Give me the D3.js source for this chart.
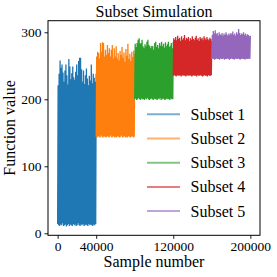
<!DOCTYPE html>
<html>
<head>
<meta charset="utf-8">
<script src="https://cdn.jsdelivr.net/npm/d3@7"></script>
<style>
  html, body { margin: 0; padding: 0; background: #fff; }
  svg { display: block; }
</style>
</head>
<body>
<svg id="chart" width="277" height="277"></svg>
<script>
// ---- data ----
const seriesNames = ["Subset 1", "Subset 2", "Subset 3", "Subset 4", "Subset 5"];
const seriesColors = ["#1f77b4", "#ff7f0e", "#2ca02c", "#d62728", "#9467bd"];
const samplesPerSubset = 40000;

const subset1High = [221, 238, 258, 247, 252, 240, 226, 243, 252, 236, 222, 260, 249, 230, 239, 249, 233, 229, 241, 252, 236, 257, 262, 262, 245, 226, 243, 223, 236, 246, 231, 221, 235, 228, 252, 224, 238, 232, 226, 238];
const subset1Low  = [14, 12, 11, 13, 12, 15, 11, 12, 13, 10, 12, 14, 11, 13, 12, 11, 14, 12, 13, 11, 12, 15, 12, 11, 13, 12, 14, 11, 12, 13, 12, 11, 14, 12, 13, 12, 11, 13, 12, 14];

const subset2High = [264, 271, 269, 261, 284, 271, 285, 284, 264, 274, 266, 281, 269, 276, 264, 274, 281, 261, 276, 264, 279, 261, 269, 258, 272, 266, 278, 262, 270, 256, 275, 265, 283, 260, 268, 257, 271, 263, 273, 268];
const subset2Low  = [144, 143, 145, 144, 143, 146, 144, 143, 145, 144, 143, 144, 145, 143, 144, 146, 143, 144, 145, 143, 144, 143, 145, 144, 143, 144, 146, 143, 144, 145, 143, 144, 143, 145, 144, 143, 144, 145, 143, 144];

const subset3High = [283, 278, 284, 289, 291, 283, 284, 289, 279, 276, 282, 279, 286, 289, 281, 279, 276, 280, 279, 274, 284, 286, 278, 281, 276, 284, 280, 286, 279, 283, 277, 285, 279, 282, 286, 278, 280, 284, 276, 286];
const subset3Low  = [200, 201, 199, 200, 202, 200, 199, 201, 200, 200, 199, 201, 200, 202, 200, 199, 200, 201, 200, 199, 201, 200, 200, 199, 201, 200, 202, 199, 200, 201, 200, 199, 200, 201, 200, 200, 199, 201, 200, 200];

const subset4High = [291, 289, 293, 288, 295, 290, 292, 287, 294, 289, 291, 296, 288, 292, 290, 293, 287, 291, 289, 294, 290, 288, 292, 295, 289, 291, 287, 293, 290, 292, 288, 294, 291, 289, 293, 290, 288, 292, 290, 287];
const subset4Low  = [235, 236, 235, 234, 236, 235, 235, 236, 234, 235, 236, 235, 235, 234, 236, 235, 235, 236, 235, 234, 235, 236, 235, 235, 234, 236, 235, 235, 236, 235, 234, 235, 236, 235, 235, 234, 236, 235, 235, 236];

const subset5High = [296, 302, 298, 303, 297, 299, 295, 300, 297, 296, 299, 295, 298, 296, 300, 297, 295, 298, 296, 299, 297, 301, 296, 298, 295, 300, 297, 305, 299, 296, 298, 297, 300, 296, 298, 295, 297, 296, 294, 295];
const subset5Low  = [260, 261, 260, 259, 260, 261, 260, 260, 259, 261, 260, 260, 261, 259, 260, 260, 261, 260, 259, 260, 261, 260, 260, 259, 261, 260, 260, 261, 260, 259, 260, 261, 260, 260, 259, 261, 260, 260, 261, 260];

const xTicks = [0, 40000, 120000, 200000];
const yTicks = [0, 100, 200, 300];

const highs = [subset1High, subset2High, subset3High, subset4High, subset5High];
const lows  = [subset1Low, subset2Low, subset3Low, subset4Low, subset5Low];

// ---- layout ----
const FONT = "'Liberation Serif', 'DejaVu Serif', 'Times New Roman', serif";
const svg = d3.select("#chart");
const plot = { left: 48, right: 260, top: 20.7, bottom: 235.3 };

const x = d3.scaleLinear().domain([-10000, 210000]).range([plot.left, plot.right]);
const y = d3.scaleLinear().domain([-3, 317.3]).range([plot.bottom, plot.top]);

svg.append("defs").append("clipPath").attr("id", "clip")
  .append("rect")
  .attr("x", plot.left).attr("y", plot.top)
  .attr("width", plot.right - plot.left).attr("height", plot.bottom - plot.top);

// build sample sequences (alternating low / high samples)
const series = seriesNames.map((name, k) => {
  const hi = highs[k], lo = lows[k];
  const n = hi.length * 2;
  const pts = [];
  for (let i = 0; i < hi.length; i++) {
    pts.push({ s: samplesPerSubset * k + (2 * i) * samplesPerSubset / (n - 1), v: lo[i] });
    pts.push({ s: samplesPerSubset * k + (2 * i + 1) * samplesPerSubset / (n - 1), v: hi[i] });
  }
  return { name, color: seriesColors[k], pts };
});

const line = d3.line().x(d => x(d.s)).y(d => y(d.v));

const g = svg.append("g").attr("clip-path", "url(#clip)");
g.selectAll("path.series")
  .data(series)
  .join("path")
  .attr("class", "series")
  .attr("d", d => line(d.pts))
  .attr("fill", "none")
  .attr("stroke", d => d.color)
  .attr("stroke-width", 1.3)
  .attr("stroke-linejoin", "miter");

// ---- axes ----
const xAxis = d3.axisBottom(x).tickValues(xTicks).tickFormat(d3.format("d")).tickSizeOuter(0).tickSize(3.5).tickPadding(3);
const yAxis = d3.axisLeft(y).tickValues(yTicks).tickFormat(d3.format("d")).tickSizeOuter(0).tickSize(3.5).tickPadding(3);

const gx = svg.append("g").attr("transform", `translate(0,${plot.bottom})`).call(xAxis);
const gy = svg.append("g").attr("transform", `translate(${plot.left},0)`).call(yAxis);
[gx, gy].forEach(a => {
  a.attr("font-family", FONT).attr("font-size", 13.5);
  a.select(".domain").remove();
  a.selectAll(".tick line").attr("stroke", "#000").attr("stroke-width", 0.9);
  a.selectAll(".tick text").attr("fill", "#000");
});

// frame
svg.append("rect")
  .attr("x", plot.left).attr("y", plot.top)
  .attr("width", plot.right - plot.left).attr("height", plot.bottom - plot.top)
  .attr("fill", "none").attr("stroke", "#000").attr("stroke-width", 1);

// title and labels
const labels = svg.append("g").attr("font-family", FONT).attr("font-size", 16).attr("fill", "#000");
labels.append("text").attr("x", (plot.left + plot.right) / 2).attr("y", 16.5)
  .attr("text-anchor", "middle").text("Subset Simulation");
labels.append("text").attr("x", (plot.left + plot.right) / 2).attr("y", 267)
  .attr("text-anchor", "middle").text("Sample number");
labels.append("text")
  .attr("transform", `translate(15,${(plot.top + plot.bottom) / 2}) rotate(-90)`)
  .attr("text-anchor", "middle").text("Function value");

// legend
const legendY0 = 114.3, legendStep = 24.2;
const lg = svg.append("g").attr("font-family", FONT).attr("font-size", 16).attr("fill", "#000");
series.forEach((d, i) => {
  const yy = legendY0 + i * legendStep;
  lg.append("line").attr("x1", 147).attr("x2", 180).attr("y1", yy).attr("y2", yy)
    .attr("stroke", d.color).attr("stroke-width", 2).attr("stroke-opacity", 0.6);
  lg.append("text").attr("x", 190.5).attr("y", yy + 5.5).text(d.name);
});
</script>
</body>
</html>
